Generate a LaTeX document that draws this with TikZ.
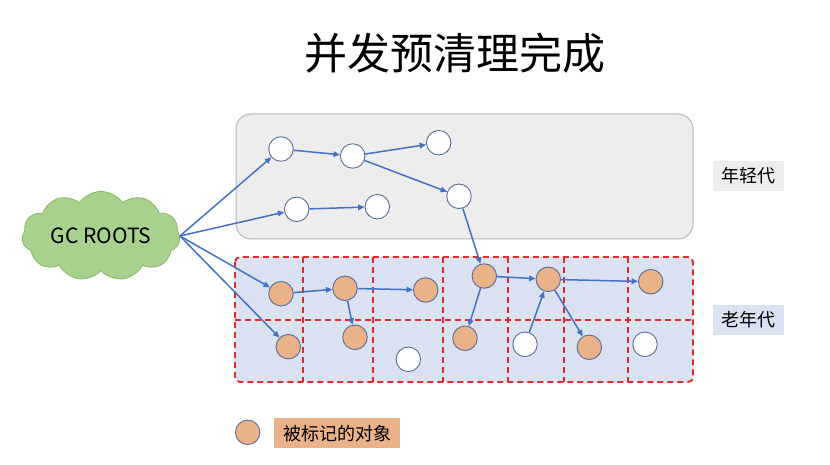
\documentclass[tikz,border=0pt]{standalone}
\usepackage{fontspec}
\setmainfont{Noto Sans CJK SC}
\usetikzlibrary{arrows.meta,shapes.symbols}
\definecolor{arrowblue}{HTML}{4472C4}
\definecolor{circborder}{HTML}{5A6C9C}
\definecolor{markfill}{HTML}{EAB289}
\definecolor{younggray}{HTML}{EDEDED}
\definecolor{youngborder}{HTML}{B8B8B8}
\definecolor{oldblue}{HTML}{DAE1F0}
\definecolor{reddash}{HTML}{E02B2B}
\definecolor{cloudfill}{HTML}{A9D18E}
\definecolor{cloudborder}{HTML}{86B56A}
\tikzset{
  obj/.style={circle, draw=circborder, line width=0.9pt, minimum size=24.5pt, inner sep=0pt, fill=white},
  marked/.style={obj, fill=markfill},
  ref/.style={draw=arrowblue, line width=1.5pt, -{Triangle[length=6.5pt,width=5.5pt]}},
  genlabel/.style={minimum width=71pt, minimum height=30pt, inner sep=0pt, font=\fontsize{18}{20}\selectfont},
  celldash/.style={draw=reddash, line width=1.9pt, dash pattern=on 6pt off 4pt}
}
\begin{document}
\begin{tikzpicture}[x=1pt,y=-1pt]
\useasboundingbox (0,0) rectangle (830,465);
% title
\node[font=\fontsize{43}{48}\selectfont] (title) at (455,53) {并发预清理完成};
% young generation
\node[draw=youngborder, fill=younggray, line width=1pt, rounded corners=15pt, minimum width=457pt, minimum height=125pt, inner sep=0pt] (young) at (464.5,176.5) {};
% old generation
\node[fill=oldblue, rounded corners=5pt, minimum width=458pt, minimum height=125pt, inner sep=0pt] (old) at (464,319.5) {};
\draw[celldash, rounded corners=5pt] (235,257) rectangle (693,382);
\draw[celldash] (235,320) -- (693,320);
\foreach \x in {302.7,372.7,442.7,507.7,564.3,627.7}
  \draw[celldash] (\x,257) -- (\x,382);
% labels
\node[genlabel, fill=younggray] (ylabel) at (748.5,176) {年轻代};
\node[genlabel, fill=oldblue] (olabel) at (748.5,320) {老年代};
% cloud
\node[cloud, cloud puffs=11, cloud puff arc=110, aspect=2, draw=cloudborder, fill=cloudfill, line width=0.8pt, minimum width=158pt, minimum height=80pt, inner sep=0pt, font=\fontsize{21}{23}\selectfont] (roots) at (101,236) {GC ROOTS};
% young objects
\node[obj] (A) at (281,149) {};
\node[obj] (B) at (352.7,156) {};
\node[obj] (C) at (438.7,142.7) {};
\node[obj] (D) at (459,196.3) {};
\node[obj] (E) at (296.7,209.3) {};
\node[obj] (F) at (377.3,206.7) {};
% old objects
\node[marked] (O1) at (281,293.7) {};
\node[marked] (O2) at (345,288.3) {};
\node[marked] (O3) at (425.7,290) {};
\node[marked] (O4) at (484.3,276) {};
\node[marked] (O5) at (548.3,279.3) {};
\node[marked] (O6) at (650.7,281.7) {};
\node[marked] (P1) at (288.3,346.7) {};
\node[marked] (P2) at (355,337.3) {};
\node[obj] (P3) at (408.3,359.3) {};
\node[marked] (P4) at (465,338.3) {};
\node[obj] (P5) at (525,344.3) {};
\node[marked] (P6) at (589.3,347.3) {};
\node[obj] (P7) at (645,344.3) {};
% references
\draw[ref] (roots.east) -- (A);
\draw[ref] (roots.east) -- (E);
\draw[ref] (roots.east) -- (O1);
\draw[ref] (roots.east) -- (P1);
\draw[ref] (A) -- (B);
\draw[ref] (B) -- (C);
\draw[ref] (B) -- (D);
\draw[ref] (E) -- (F);
\draw[ref] (D) -- (O4);
\draw[ref] (O1) -- (O2);
\draw[ref] (O2) -- (O3);
\draw[ref] (O2) -- (P2);
\draw[ref] (O4) -- (O5);
\draw[ref] (O4) -- (P4);
\draw[ref] (O5) -- (O6);
\draw[ref] (O5) -- (P6);
\draw[ref] (P5) -- (O5);
% legend
\node[marked] (legc) at (247.7,432.3) {};
\node[fill=markfill, minimum width=126pt, minimum height=30pt, inner sep=0pt, font=\fontsize{18}{20}\selectfont] (legt) at (337,433.3) {被标记的对象};
\end{tikzpicture}
\end{document}
